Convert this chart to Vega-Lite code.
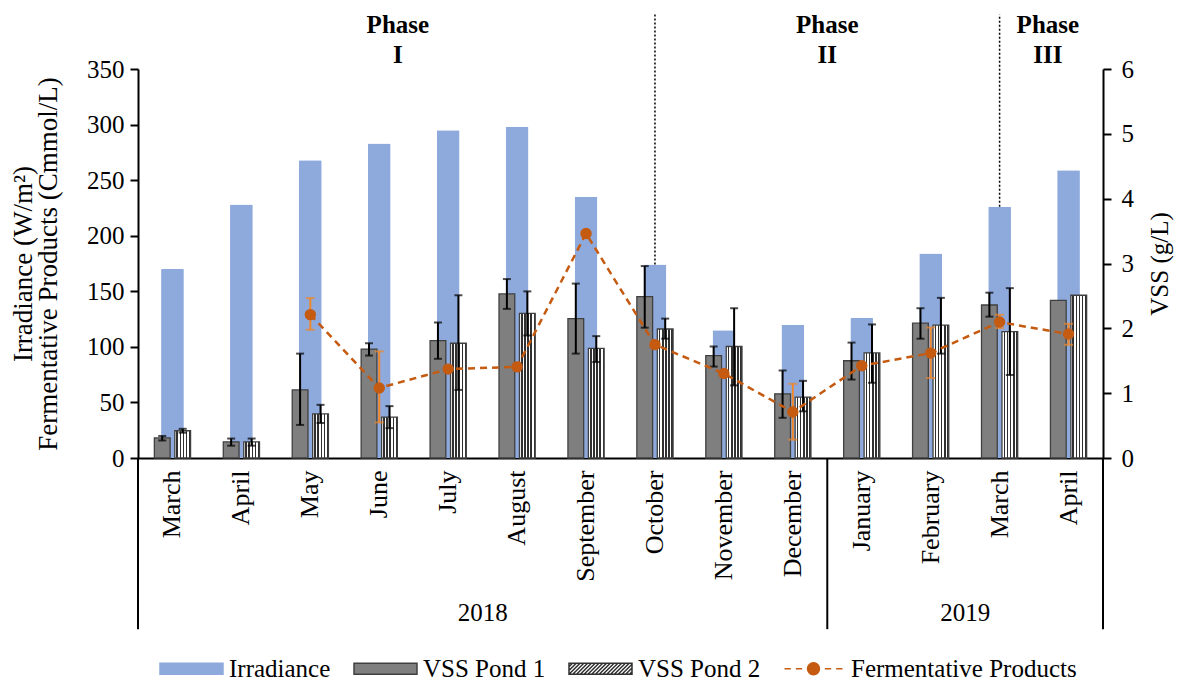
{
  "$schema": "https://vega.github.io/schema/vega-lite/v6.json",
  "width": 965,
  "height": 389,
  "autosize": {"type": "none"},
  "padding": {"left": 138, "top": 69, "right": 74, "bottom": 226},
  "background": "white",
  "config": {
    "font": "Liberation Serif",
    "view": {"stroke": null},
    "text": {"font": "Liberation Serif"},
    "legend": {"labelFont": "Liberation Serif", "titleFont": "Liberation Serif"},
    "axis": {"labelFont": "Liberation Serif", "titleFont": "Liberation Serif", "labelColor": "black", "titleColor": "black", "domainColor": "black", "tickColor": "black", "labelFontSize": 25, "titleFontSize": 24, "titleFontWeight": "normal", "grid": false, "domainWidth": 2, "tickWidth": 2}
  },
  "datasets": {
    "irr": [
      {"m": "March 2018", "irr": 170}, {"m": "April 2018", "irr": 228}, {"m": "May 2018", "irr": 268},
      {"m": "June 2018", "irr": 283}, {"m": "July 2018", "irr": 295}, {"m": "August 2018", "irr": 298},
      {"m": "September 2018", "irr": 235}, {"m": "October 2018", "irr": 174}, {"m": "November 2018", "irr": 115},
      {"m": "December 2018", "irr": 120}, {"m": "January 2019", "irr": 126}, {"m": "February 2019", "irr": 184},
      {"m": "March 2019", "irr": 226}, {"m": "April 2019", "irr": 259}
    ],
    "vss": [
      {"m": "March 2018", "pond": "VSS Pond 1", "vss": 0.31, "lo": 0.27, "hi": 0.34},
      {"m": "April 2018", "pond": "VSS Pond 1", "vss": 0.25, "lo": 0.19, "hi": 0.30},
      {"m": "May 2018", "pond": "VSS Pond 1", "vss": 1.05, "lo": 0.51, "hi": 1.61},
      {"m": "June 2018", "pond": "VSS Pond 1", "vss": 1.68, "lo": 1.58, "hi": 1.77},
      {"m": "July 2018", "pond": "VSS Pond 1", "vss": 1.81, "lo": 1.53, "hi": 2.09},
      {"m": "August 2018", "pond": "VSS Pond 1", "vss": 2.53, "lo": 2.30, "hi": 2.76},
      {"m": "September 2018", "pond": "VSS Pond 1", "vss": 2.15, "lo": 1.61, "hi": 2.69},
      {"m": "October 2018", "pond": "VSS Pond 1", "vss": 2.49, "lo": 2.01, "hi": 2.96},
      {"m": "November 2018", "pond": "VSS Pond 1", "vss": 1.58, "lo": 1.41, "hi": 1.72},
      {"m": "December 2018", "pond": "VSS Pond 1", "vss": 0.99, "lo": 0.62, "hi": 1.35},
      {"m": "January 2019", "pond": "VSS Pond 1", "vss": 1.50, "lo": 1.21, "hi": 1.78},
      {"m": "February 2019", "pond": "VSS Pond 1", "vss": 2.08, "lo": 1.84, "hi": 2.31},
      {"m": "March 2019", "pond": "VSS Pond 1", "vss": 2.36, "lo": 2.18, "hi": 2.55},
      {"m": "April 2019", "pond": "VSS Pond 1", "vss": 2.43, "lo": null, "hi": null},
      {"m": "March 2018", "pond": "VSS Pond 2", "vss": 0.42, "lo": 0.39, "hi": 0.45},
      {"m": "April 2018", "pond": "VSS Pond 2", "vss": 0.25, "lo": 0.19, "hi": 0.30},
      {"m": "May 2018", "pond": "VSS Pond 2", "vss": 0.68, "lo": 0.54, "hi": 0.82},
      {"m": "June 2018", "pond": "VSS Pond 2", "vss": 0.63, "lo": 0.46, "hi": 0.80},
      {"m": "July 2018", "pond": "VSS Pond 2", "vss": 1.77, "lo": 1.05, "hi": 2.51},
      {"m": "August 2018", "pond": "VSS Pond 2", "vss": 2.23, "lo": 1.89, "hi": 2.57},
      {"m": "September 2018", "pond": "VSS Pond 2", "vss": 1.69, "lo": 1.48, "hi": 1.88},
      {"m": "October 2018", "pond": "VSS Pond 2", "vss": 1.99, "lo": 1.84, "hi": 2.15},
      {"m": "November 2018", "pond": "VSS Pond 2", "vss": 1.72, "lo": 1.12, "hi": 2.31},
      {"m": "December 2018", "pond": "VSS Pond 2", "vss": 0.94, "lo": 0.72, "hi": 1.19},
      {"m": "January 2019", "pond": "VSS Pond 2", "vss": 1.62, "lo": 1.16, "hi": 2.06},
      {"m": "February 2019", "pond": "VSS Pond 2", "vss": 2.05, "lo": 1.61, "hi": 2.47},
      {"m": "March 2019", "pond": "VSS Pond 2", "vss": 1.95, "lo": 1.28, "hi": 2.62},
      {"m": "April 2019", "pond": "VSS Pond 2", "vss": 2.51, "lo": null, "hi": null}
    ],
    "fp": [
      {"m": "May 2018", "fp": 129, "lo": 115.4, "hi": 143.9},
      {"m": "June 2018", "fp": 63, "lo": 32, "hi": 95.9},
      {"m": "July 2018", "fp": 80, "lo": null, "hi": null},
      {"m": "August 2018", "fp": 82, "lo": null, "hi": null},
      {"m": "September 2018", "fp": 202, "lo": null, "hi": null},
      {"m": "October 2018", "fp": 102, "lo": null, "hi": null},
      {"m": "November 2018", "fp": 76, "lo": null, "hi": null},
      {"m": "December 2018", "fp": 41.4, "lo": 16.5, "hi": 66.8},
      {"m": "January 2019", "fp": 83, "lo": null, "hi": null},
      {"m": "February 2019", "fp": 94.4, "lo": 71.9, "hi": 117.4},
      {"m": "March 2019", "fp": 122.3, "lo": 116.9, "hi": 128.9},
      {"m": "April 2019", "fp": 111.5, "lo": 101.9, "hi": 120.8}
    ],
    "series": [
      {"series": "Irradiance"}, {"series": "VSS Pond 1"}, {"series": "VSS Pond 2"}, {"series": "Fermentative Products"}
    ]
  },
  "resolve": {"scale": {"y": "independent"}},
  "layer": [
    {
      "data": {"name": "irr"},
      "mark": {"type": "bar", "width": {"band": 0.33}, "cornerRadius": 1, "color": "#8eaadc"},
      "encoding": {
        "x": {"field": "m", "type": "nominal", "sort": null,
          "scale": {"domain": ["March 2018","April 2018","May 2018","June 2018","July 2018","August 2018","September 2018","October 2018","November 2018","December 2018","January 2019","February 2019","March 2019","April 2019"], "paddingInner": 0, "paddingOuter": 0},
          "axis": {"title": null, "labelAngle": -90, "labelExpr": "split(datum.label, ' ')[0]", "ticks": false, "labelPadding": 12, "labelFontSize": 26, "domainWidth": 2}},
        "y": {"field": "irr", "type": "quantitative", "scale": {"domain": [0, 350], "nice": false},
          "axis": {"orient": "left", "values": [0,50,100,150,200,250,300,350], "tickSize": 8, "labelPadding": 6, "title": ["Irradiance (W/m²)", "Fermentative Products (Cmmol/L)"], "titleFontSize": 27, "titlePadding": 24, "titleLineHeight": 25}}
      }
    },
    {
      "data": {"name": "series"},
      "mark": {"type": "point", "filled": true, "opacity": 0, "size": 0},
      "encoding": {
        "fill": {"field": "series", "type": "nominal",
          "scale": {"domain": ["Irradiance", "VSS Pond 1", "VSS Pond 2", "Fermentative Products"], "range": ["#8eaadc", "#7f7f7f", "#ffffff", "#c55a11"]},
          "legend": {"orient": "none", "legendX": 21, "legendY": 567, "direction": "horizontal", "title": null, "padding": 0,
            "symbolSize": 3969, "symbolStrokeWidth": 1.5, "symbolOpacity": 1, "labelFontSize": 25, "labelFont": "Liberation Serif", "labelColor": "black", "labelOffset": 5, "labelLimit": 0, "columnPadding": 20}},
        "stroke": {"field": "series", "type": "nominal",
          "scale": {"domain": ["Irradiance", "VSS Pond 1", "VSS Pond 2", "Fermentative Products"], "range": ["#8eaadc", "#404040", "#303030", "#c55a11"]},
          "legend": {"orient": "none", "legendX": 21, "legendY": 567, "direction": "horizontal", "title": null, "padding": 0,
            "symbolSize": 3969, "symbolStrokeWidth": 1.5, "symbolOpacity": 1, "labelFontSize": 25, "labelFont": "Liberation Serif", "labelColor": "black", "labelOffset": 5, "labelLimit": 0, "columnPadding": 20}},
        "shape": {"field": "series", "type": "nominal",
          "scale": {"domain": ["Irradiance", "VSS Pond 1", "VSS Pond 2", "Fermentative Products"],
            "range": ["M-1,-0.175H1V0.175H-1Z", "M-1,-0.175H1V0.175H-1Z",
              "M-1,-0.175H1V0.175H-1Z M-1,0.055L-0.77,-0.175 M-1,-0.065L-0.89,-0.175 M-1,0.175L-0.65,-0.175 M-0.88,0.175L-0.53,-0.175 M-0.76,0.175L-0.41,-0.175 M-0.64,0.175L-0.29,-0.175 M-0.52,0.175L-0.17,-0.175 M-0.4,0.175L-0.05,-0.175 M-0.28,0.175L0.07,-0.175 M-0.16,0.175L0.19,-0.175 M-0.04,0.175L0.31,-0.175 M0.08,0.175L0.43,-0.175 M0.2,0.175L0.55,-0.175 M0.32,0.175L0.67,-0.175 M0.44,0.175L0.79,-0.175 M0.56,0.175L0.91,-0.175 M0.68,0.175L1,-0.145 M0.8,0.175L1,-0.025 M0.92,0.175L1,0.095",
              "M-0.92,0H-0.72M-0.56,0H-0.36M-0.2,0H0.2M0.36,0H0.56M0.72,0H0.92M-0.19,0A0.19,0.19 0 1,0 0.19,0A0.19,0.19 0 1,0 -0.19,0Z"]},
          "legend": {"orient": "none", "legendX": 21, "legendY": 567, "direction": "horizontal", "title": null, "padding": 0,
            "symbolSize": 3969, "symbolStrokeWidth": 1.5, "symbolOpacity": 1, "labelFontSize": 25, "labelFont": "Liberation Serif", "labelColor": "black", "labelOffset": 5, "labelLimit": 0, "columnPadding": 20}}
      }
    },
    {
      "data": {"name": "irr"},
      "transform": [{"filter": "datum.m === 'October 2018' || datum.m === 'March 2019'"}],
      "mark": {"type": "rule", "color": "black", "strokeWidth": 1.5, "strokeDash": [2, 2]},
      "encoding": {
        "x": {"field": "m", "type": "nominal", "sort": null},
        "y": {"field": "irr", "type": "quantitative", "scale": {"domain": [0, 350], "nice": false}, "axis": null},
        "y2": {"datum": 399}
      }
    },
    {
      "data": {"name": "vss"},
      "transform": [{"filter": "datum.pond === 'VSS Pond 1'"}],
      "mark": {"type": "bar", "fill": "#7f7f7f", "stroke": "#404040", "strokeWidth": 1.3},
      "encoding": {
        "x": {"field": "m", "type": "nominal", "sort": null},
        "xOffset": {"field": "pond", "type": "nominal", "scale": {"domain": ["VSS Pond 1", "VSS Pond 2"], "paddingInner": 0.23, "paddingOuter": 0.8}},
        "y": {"field": "vss", "type": "quantitative", "scale": {"domain": [0, 6], "nice": false},
          "axis": {"orient": "right", "values": [0,1,2,3,4,5,6], "tickSize": 8, "labelPadding": 10, "title": "VSS (g/L)", "titleFontSize": 25, "titleAngle": -90, "titleBaseline": "top", "titlePadding": 14}}
      }
    },
    {
      "data": {"name": "vss"},
      "transform": [{"filter": "datum.pond === 'VSS Pond 2'"}],
      "mark": {"type": "bar", "stroke": "#404040", "strokeWidth": 1.3,
        "fill": {"gradient": "linear", "x1": 0, "y1": 0, "x2": 1, "y2": 0, "stops": [
          {"offset": 0, "color": "#ffffff"}, {"offset": 0.1, "color": "#ffffff"}, {"offset": 0.1, "color": "#303030"}, {"offset": 0.2, "color": "#303030"},
          {"offset": 0.2, "color": "#ffffff"}, {"offset": 0.3, "color": "#ffffff"}, {"offset": 0.3, "color": "#303030"}, {"offset": 0.4, "color": "#303030"},
          {"offset": 0.4, "color": "#ffffff"}, {"offset": 0.5, "color": "#ffffff"}, {"offset": 0.5, "color": "#303030"}, {"offset": 0.6, "color": "#303030"},
          {"offset": 0.6, "color": "#ffffff"}, {"offset": 0.7, "color": "#ffffff"}, {"offset": 0.7, "color": "#303030"}, {"offset": 0.8, "color": "#303030"},
          {"offset": 0.8, "color": "#ffffff"}, {"offset": 0.9, "color": "#ffffff"}, {"offset": 0.9, "color": "#303030"}, {"offset": 1, "color": "#303030"}]}},
      "encoding": {
        "x": {"field": "m", "type": "nominal", "sort": null},
        "xOffset": {"field": "pond", "type": "nominal", "scale": {"domain": ["VSS Pond 1", "VSS Pond 2"], "paddingInner": 0.23, "paddingOuter": 0.8}},
        "y": {"field": "vss", "type": "quantitative", "scale": {"domain": [0, 6], "nice": false}, "axis": null}
      }
    },
    {
      "data": {"name": "vss"},
      "transform": [{"filter": "isValid(datum.lo)"}],
      "mark": {"type": "rule", "color": "black", "strokeWidth": 2},
      "encoding": {
        "x": {"field": "m", "type": "nominal", "sort": null},
        "xOffset": {"field": "pond", "type": "nominal", "scale": {"domain": ["VSS Pond 1", "VSS Pond 2"], "paddingInner": 0.23, "paddingOuter": 0.8}},
        "y": {"field": "lo", "type": "quantitative", "scale": {"domain": [0, 6], "nice": false}, "axis": null},
        "y2": {"field": "hi"}
      }
    },
    {
      "data": {"name": "vss"},
      "transform": [{"filter": "isValid(datum.lo)"}],
      "mark": {"type": "tick", "color": "black", "size": 8, "thickness": 2},
      "encoding": {
        "x": {"field": "m", "type": "nominal", "sort": null},
        "xOffset": {"field": "pond", "type": "nominal", "scale": {"domain": ["VSS Pond 1", "VSS Pond 2"], "paddingInner": 0.23, "paddingOuter": 0.8}},
        "y": {"field": "lo", "type": "quantitative", "scale": {"domain": [0, 6], "nice": false}, "axis": null}
      }
    },
    {
      "data": {"name": "vss"},
      "transform": [{"filter": "isValid(datum.hi)"}],
      "mark": {"type": "tick", "color": "black", "size": 8, "thickness": 2},
      "encoding": {
        "x": {"field": "m", "type": "nominal", "sort": null},
        "xOffset": {"field": "pond", "type": "nominal", "scale": {"domain": ["VSS Pond 1", "VSS Pond 2"], "paddingInner": 0.23, "paddingOuter": 0.8}},
        "y": {"field": "hi", "type": "quantitative", "scale": {"domain": [0, 6], "nice": false}, "axis": null}
      }
    },
    {
      "data": {"name": "fp"},
      "mark": {"type": "line", "color": "#c55a11", "strokeWidth": 2.5, "strokeDash": [7, 5]},
      "encoding": {
        "x": {"field": "m", "type": "nominal", "sort": null},
        "y": {"field": "fp", "type": "quantitative", "scale": {"domain": [0, 350], "nice": false}, "axis": null}
      }
    },
    {
      "data": {"name": "fp"},
      "transform": [{"filter": "isValid(datum.lo)"}],
      "mark": {"type": "rule", "color": "#f0872a", "strokeWidth": 2},
      "encoding": {
        "x": {"field": "m", "type": "nominal", "sort": null},
        "y": {"field": "lo", "type": "quantitative", "scale": {"domain": [0, 350], "nice": false}, "axis": null},
        "y2": {"field": "hi"}
      }
    },
    {
      "data": {"name": "fp"},
      "transform": [{"filter": "isValid(datum.lo)"}],
      "mark": {"type": "tick", "color": "#f0872a", "size": 9, "thickness": 2},
      "encoding": {
        "x": {"field": "m", "type": "nominal", "sort": null},
        "y": {"field": "lo", "type": "quantitative", "scale": {"domain": [0, 350], "nice": false}, "axis": null}
      }
    },
    {
      "data": {"name": "fp"},
      "transform": [{"filter": "isValid(datum.hi)"}],
      "mark": {"type": "tick", "color": "#f0872a", "size": 9, "thickness": 2},
      "encoding": {
        "x": {"field": "m", "type": "nominal", "sort": null},
        "y": {"field": "hi", "type": "quantitative", "scale": {"domain": [0, 350], "nice": false}, "axis": null}
      }
    },
    {
      "data": {"name": "fp"},
      "mark": {"type": "point", "filled": true, "color": "#c55a11", "size": 130, "opacity": 1},
      "encoding": {
        "x": {"field": "m", "type": "nominal", "sort": null},
        "y": {"field": "fp", "type": "quantitative", "scale": {"domain": [0, 350], "nice": false}, "axis": null}
      }
    },
    {
      "data": {"values": [{"m": "June 2018", "label": "Phase\nI"}]},
      "mark": {"type": "text", "font": "Liberation Serif", "fontWeight": "bold", "fontSize": 25, "lineHeight": 30, "lineBreak": "\n", "align": "center", "baseline": "alphabetic", "color": "black"},
      "encoding": {
        "x": {"field": "m", "type": "nominal", "sort": null, "bandPosition": 0.77},
        "y": {"datum": 382.5, "type": "quantitative", "scale": {"domain": [0, 350], "nice": false}, "axis": null},
        "text": {"field": "label"}
      }
    },
    {
      "data": {"values": [{"m": "January 2019", "label": "Phase\nII"}]},
      "mark": {"type": "text", "font": "Liberation Serif", "fontWeight": "bold", "fontSize": 25, "lineHeight": 30, "lineBreak": "\n", "align": "center", "baseline": "alphabetic", "color": "black"},
      "encoding": {
        "x": {"field": "m", "type": "nominal", "sort": null, "bandPosition": 0},
        "y": {"datum": 382.5, "type": "quantitative", "scale": {"domain": [0, 350], "nice": false}, "axis": null},
        "text": {"field": "label"}
      }
    },
    {
      "data": {"values": [{"m": "April 2019", "label": "Phase\nIII"}]},
      "mark": {"type": "text", "font": "Liberation Serif", "fontWeight": "bold", "fontSize": 25, "lineHeight": 30, "lineBreak": "\n", "align": "center", "baseline": "alphabetic", "color": "black"},
      "encoding": {
        "x": {"field": "m", "type": "nominal", "sort": null, "bandPosition": 0.2},
        "y": {"datum": 382.5, "type": "quantitative", "scale": {"domain": [0, 350], "nice": false}, "axis": null},
        "text": {"field": "label"}
      }
    },
    {
      "data": {"values": [{"m": "August 2018", "label": "2018"}, {"m": "March 2019", "label": "2019"}]},
      "mark": {"type": "text", "font": "Liberation Serif", "fontSize": 25, "align": "center", "baseline": "alphabetic", "color": "black"},
      "encoding": {
        "x": {"field": "m", "type": "nominal", "sort": null, "bandPosition": 0},
        "y": {"datum": -147, "type": "quantitative", "scale": {"domain": [0, 350], "nice": false}, "axis": null},
        "text": {"field": "label"}
      }
    },
    {
      "data": {"values": [{"m": "March 2018"}, {"m": "January 2019"}]},
      "mark": {"type": "rule", "color": "black", "strokeWidth": 2},
      "encoding": {
        "x": {"field": "m", "type": "nominal", "sort": null, "bandPosition": 0},
        "y": {"datum": 0, "type": "quantitative", "scale": {"domain": [0, 350], "nice": false}, "axis": null},
        "y2": {"datum": -154}
      }
    },
    {
      "data": {"values": [{"m": "April 2019"}]},
      "mark": {"type": "rule", "color": "black", "strokeWidth": 2},
      "encoding": {
        "x": {"field": "m", "type": "nominal", "sort": null, "bandPosition": 1},
        "y": {"datum": 0, "type": "quantitative", "scale": {"domain": [0, 350], "nice": false}, "axis": null},
        "y2": {"datum": -154}
      }
    }
  ]
}
